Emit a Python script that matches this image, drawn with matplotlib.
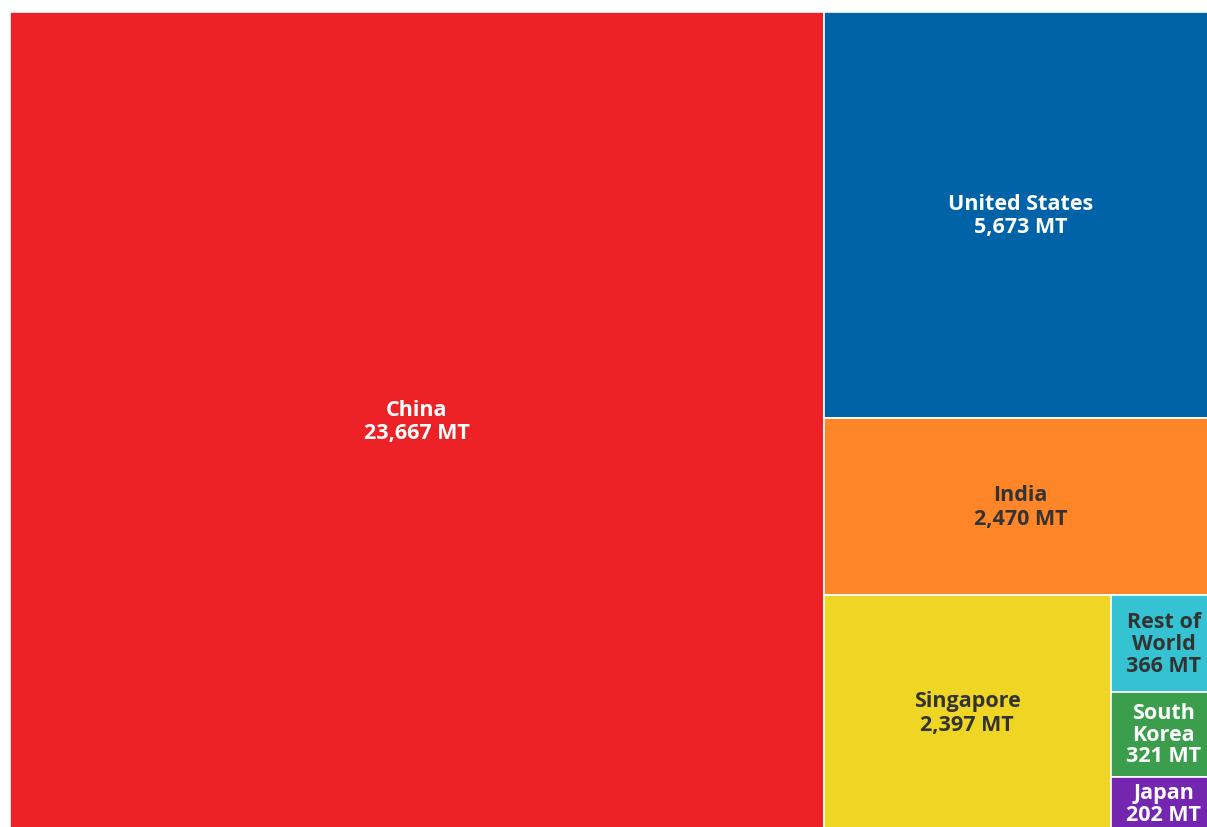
import matplotlib.pyplot as plt
from matplotlib.patches import Rectangle

# output by country, MT
countries = ["China", "United States", "India", "Singapore", "Rest of World", "South Korea", "Japan"]
values = [23667, 5673, 2470, 2397, 366, 321, 202]
labels = ["China", "United States", "India", "Singapore", "Rest of\nWorld", "South\nKorea", "Japan"]
colors = ["#EC2227", "#0063A8", "#FF8628", "#F0D624", "#35C2D2", "#3A9E4C", "#7526B0"]
text_colors = ["white", "white", "#333333", "#333333", "#333333", "white", "white"]

plt.rcParams['font.family'] = ['Open Sans', 'DejaVu Sans']

W, H = 1207, 827
fig = plt.figure(figsize=(W / 100, H / 100), dpi=100)
ax = fig.add_axes([0, 0, 1, 1])
ax.set_xlim(0, W)
ax.set_ylim(H, 0)
ax.axis('off')

# plotting area (runs slightly past the right and bottom edges)
X0, Y0, X1, Y1 = 10, 12, 1217, 830


def split(x0, y0, x1, y1, vals, horizontal):
    # slice a box into strips proportional to vals
    tot = sum(vals)
    out = []
    pos = x0 if horizontal else y0
    for v in vals:
        if horizontal:
            w = (x1 - x0) * v / tot
            out.append((pos, y0, pos + w, y1))
        else:
            h = (y1 - y0) * v / tot
            out.append((x0, pos, x1, pos + h))
        pos += w if horizontal else h
    return out


# China | rest
china_box, right_box = split(X0, Y0, X1, Y1, [values[0], sum(values[1:])], True)
# US / India / bottom group
us_box, india_box, bottom_box = split(*right_box, [values[1], values[2], sum(values[3:])], False)
# Singapore | small ones
sg_box, small_box = split(*bottom_box, [values[3], sum(values[4:])], True)
small_boxes = split(*small_box, values[4:], False)

boxes = [china_box, us_box, india_box, sg_box] + small_boxes

for i, (box, lab, val, col, tc) in enumerate(zip(boxes, labels, values, colors, text_colors)):
    x0, y0, x1, y1 = box
    ax.add_patch(Rectangle((x0, y0), x1 - x0, y1 - y0, facecolor=col,
                           edgecolor='white', linewidth=1.2))
    ax.text((x0 + x1) / 2, (y0 + y1) / 2 + 1, f"{lab}\n{val:,} MT",
            ha='center', va='center', color=tc, fontsize=15.5, fontweight='bold',
            linespacing=1.15 if i < 4 else 1.05)

fig.savefig("out.png", dpi=100)
